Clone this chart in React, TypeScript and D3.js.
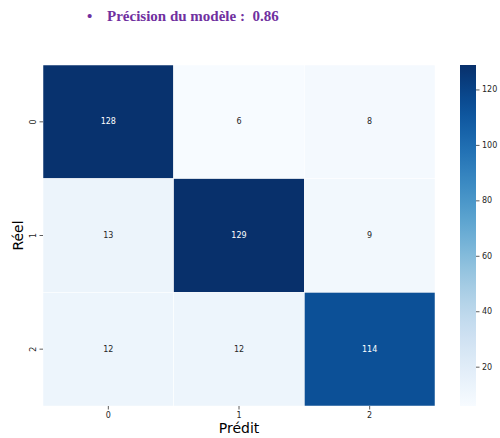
import React from "react";
import * as d3 from "d3";

const classes = ["0", "1", "2"];
const matrix: number[][] = [
  [128, 6, 8],
  [13, 129, 9],
  [12, 12, 114],
];
const colorbarTicks = [20, 40, 60, 80, 100, 120];
const accuracy = 0.86;

const W = 500;
const H = 438;
const left = 43;
const right = 435;
const top = 65;
const bottom = 406;
const cbX = 460;
const cbW = 16;

export default function App() {
  const flat = matrix.flat();
  const vmin = d3.min(flat)!;
  const vmax = d3.max(flat)!;
  const color = d3.scaleSequential(d3.interpolateBlues).domain([vmin, vmax]);
  const x = d3.scaleBand().domain(classes).range([left, right]);
  const y = d3.scaleBand().domain(classes).range([top, bottom]);
  const cbY = d3.scaleLinear().domain([vmin, vmax]).range([bottom, top]);
  const stops = d3.range(0, 1.0001, 0.05);
  const font = "DejaVu Sans, sans-serif";
  const serif = "Liberation Serif, Times New Roman, serif";

  return (
    <svg width={W} height={H} style={{ position: "absolute", left: 0, top: 0 }}>
      <defs>
        <linearGradient id="cb" x1="0" y1="1" x2="0" y2="0">
          {stops.map((t) => (
            <stop key={t} offset={t} stopColor={color(vmin + t * (vmax - vmin))} />
          ))}
        </linearGradient>
      </defs>
      <rect width={W} height={H} fill="#fff" />
      <text x={87} y={21} fontFamily={serif} fontWeight="bold" fontSize={15} fill="#7030A0">
        •
      </text>
      <text
        x={107}
        y={21}
        fontFamily={serif}
        fontWeight="bold"
        fontSize={15}
        fill="#7030A0"
        style={{ whiteSpace: "pre" }}
      >
        {`Précision du modèle :  ${accuracy.toFixed(2)}`}
      </text>

      {matrix.map((row, i) =>
        row.map((v, j) => {
          const cx = x(classes[j])!;
          const cy = y(classes[i])!;
          return (
            <g key={`${i}-${j}`}>
              <rect
                x={cx}
                y={cy}
                width={x.bandwidth()}
                height={y.bandwidth()}
                fill={color(v)}
                stroke="#fff"
                strokeWidth={0.5}
              />
              <text
                x={cx + x.bandwidth() / 2}
                y={cy + y.bandwidth() / 2}
                textAnchor="middle"
                dominantBaseline="central"
                fontFamily={font}
                fontSize={8}
                fill={v > (vmin + vmax) / 2 ? "#fff" : "#262626"}
              >
                {v}
              </text>
            </g>
          );
        })
      )}

      {classes.map((c) => (
        <g key={`x${c}`}>
          <line
            x1={x(c)! + x.bandwidth() / 2}
            x2={x(c)! + x.bandwidth() / 2}
            y1={bottom}
            y2={bottom + 3.5}
            stroke="#333"
            strokeWidth={0.8}
          />
          <text
            x={x(c)! + x.bandwidth() / 2}
            y={bottom + 12}
            textAnchor="middle"
            fontFamily={font}
            fontSize={8}
            fill="#262626"
          >
            {c}
          </text>
        </g>
      ))}
      {classes.map((c) => (
        <g key={`y${c}`}>
          <line
            x1={left - 3.5}
            x2={left}
            y1={y(c)! + y.bandwidth() / 2}
            y2={y(c)! + y.bandwidth() / 2}
            stroke="#333"
            strokeWidth={0.8}
          />
          <text
            transform={`translate(${left - 7},${y(c)! + y.bandwidth() / 2}) rotate(-90)`}
            textAnchor="middle"
            fontFamily={font}
            fontSize={8}
            fill="#262626"
          >
            {c}
          </text>
        </g>
      ))}

      <text
        x={(left + right) / 2}
        y={433}
        textAnchor="middle"
        fontFamily={font}
        fontSize={14}
        fill="#000"
      >
        Prédit
      </text>
      <text
        transform={`translate(23,${(top + bottom) / 2}) rotate(-90)`}
        textAnchor="middle"
        fontFamily={font}
        fontSize={14}
        fill="#000"
      >
        Réel
      </text>

      <rect x={cbX} y={top} width={cbW} height={bottom - top} fill="url(#cb)" />
      {colorbarTicks.map((t) => (
        <g key={`cb${t}`}>
          <line
            x1={cbX + cbW}
            x2={cbX + cbW + 3.5}
            y1={cbY(t)}
            y2={cbY(t)}
            stroke="#333"
            strokeWidth={0.8}
          />
          <text
            x={cbX + cbW + 6}
            y={cbY(t)}
            dominantBaseline="central"
            fontFamily={font}
            fontSize={8}
            fill="#262626"
          >
            {t}
          </text>
        </g>
      ))}
    </svg>
  );
}
